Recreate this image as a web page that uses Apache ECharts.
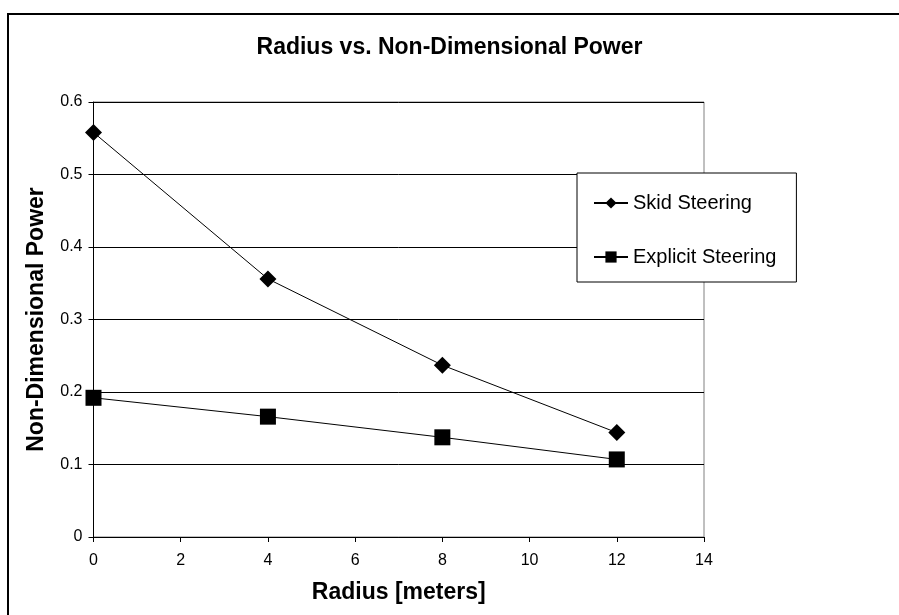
<!DOCTYPE html>
<html>
<head>
<meta charset="utf-8">
<script src="https://cdn.jsdelivr.net/npm/echarts@6/dist/echarts.min.js"></script>
<style>html,body{margin:0;padding:0;background:#fff;}#c{width:899px;height:615px;}</style>
</head>
<body>
<div id="c"></div>
<script>
var radius = [0, 4, 8, 12];
var skidSteering = [0.558, 0.356, 0.237, 0.144];
var explicitSteering = [0.192, 0.166, 0.1375, 0.107];
var yTicks = [0, 0.1, 0.2, 0.3, 0.4, 0.5, 0.6];
var xTicks = [0, 2, 4, 6, 8, 10, 12, 14];

var chart = echarts.init(document.getElementById('c'), null, {renderer: 'canvas'});
function pairs(xs, ys) { return xs.map(function (x, i) { return [x, ys[i]]; }); }
var font = 'Arial, "Liberation Sans", sans-serif';
chart.setOption({
  animation: false,
  backgroundColor: '#fff',
  title: {
    text: 'Radius vs. Non-Dimensional Power',
    left: 'center', top: 31,
    textStyle: {fontFamily: font, fontSize: 23, fontWeight: 'bold', color: '#000'}
  },
  graphic: [{
    type: 'rect', shape: {x: 8, y: 14, width: 1000, height: 1000},
    style: {fill: 'none', stroke: '#000', lineWidth: 2}, silent: true, z: -1
  }],
  grid: {left: 93.5, right: 195, top: 102, bottom: 78, show: true, borderColor: '#808080', borderWidth: 1},
  legend: {
    orient: 'vertical', left: 577, top: 173,
    padding: [20, 20, 15, 16], itemGap: 34, itemWidth: 34, itemHeight: 14,
    backgroundColor: '#fff', borderColor: '#000', borderWidth: 1,
    textStyle: {fontFamily: font, fontSize: 20, color: '#000'},
    data: ['Skid Steering', 'Explicit Steering']
  },
  xAxis: {
    type: 'value', min: 0, max: 14, interval: 2,
    name: 'Radius [meters]', nameLocation: 'middle', nameGap: 44,
    nameTextStyle: {fontFamily: font, fontSize: 23, fontWeight: 'bold', color: '#000'},
    axisLine: {show: true, onZero: false, lineStyle: {color: '#000', width: 1}},
    axisTick: {show: true, length: 5, inside: false, lineStyle: {color: '#000'}},
    axisLabel: {fontFamily: font, fontSize: 16, color: '#000', margin: 16,
      formatter: function (v) { return xTicks.indexOf(v) >= 0 ? String(v) : ''; }},
    splitLine: {show: false}
  },
  yAxis: {
    type: 'value', min: 0, max: 0.6, interval: 0.1,
    name: 'Non-Dimensional Power', nameLocation: 'middle', nameGap: 45,
    nameTextStyle: {fontFamily: font, fontSize: 23, fontWeight: 'bold', color: '#000'},
    axisLine: {show: true, onZero: false, lineStyle: {color: '#000', width: 1}},
    axisTick: {show: true, length: 5, inside: false, lineStyle: {color: '#000'}},
    axisLabel: {fontFamily: font, fontSize: 16, color: '#000', margin: 11,
      formatter: function (v) {
        var r = Math.round(v * 10) / 10;
        return yTicks.indexOf(r) >= 0 ? String(r) : '';
      }},
    splitLine: {show: true, lineStyle: {color: '#000', width: 1}}
  },
  series: [{
    name: 'Skid Steering', type: 'line', data: pairs(radius, skidSteering),
    symbol: 'diamond', symbolSize: 17,
    lineStyle: {color: '#000', width: 1}, itemStyle: {color: '#000'}
  }, {
    name: 'Explicit Steering', type: 'line', data: pairs(radius, explicitSteering),
    symbol: 'rect', symbolSize: 16,
    lineStyle: {color: '#000', width: 1}, itemStyle: {color: '#000'}
  }]
});
</script>
</body>
</html>
